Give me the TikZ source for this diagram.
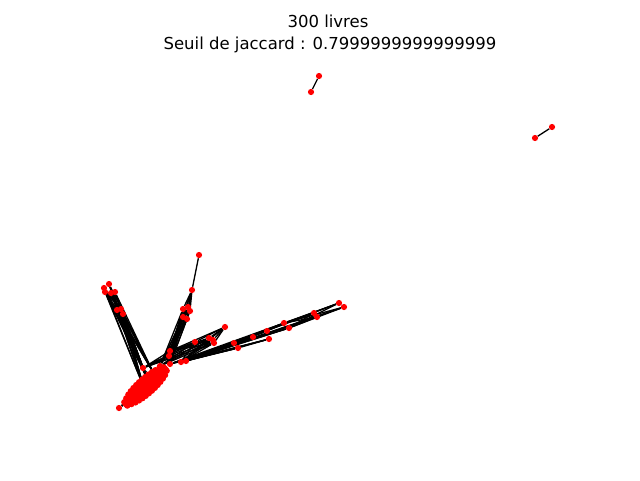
\documentclass[tikz,border=0pt]{standalone}
\usepackage{fontspec}
\setmainfont{DejaVu Sans}
\pgfdeclarelayer{bg}
\pgfsetlayers{bg,main}
\begin{document}
\begin{tikzpicture}[x=1pt,y=-1pt,
  dot/.style={circle,fill=red,inner sep=0pt,minimum size=6.2pt},
  edge/.style={black,line width=1.3pt},
  ttl/.style={font=\fontsize{16.5}{20}\selectfont,inner sep=0pt,anchor=base}]
\useasboundingbox (0,0) rectangle (640,480);
\node[ttl] (title1) at (328,27) {300 livres};
\node[ttl] (title2) at (330,49) {Seuil de jaccard : 0.7999999999999999};
% isolated pairs
\node[dot] (t1) at (319,76) {};
\node[dot] (t2) at (311,92) {};
\node[dot] (r1) at (552,127) {};
\node[dot] (r2) at (535,138) {};
% left group
\node[dot] (L1) at (109,284) {};
\node[dot] (L2) at (104,288) {};
\node[dot] (L3) at (105,292) {};
\node[dot] (L4) at (111,293) {};
\node[dot] (L5) at (115,292) {};
\node[dot] (L6) at (117,310) {};
\node[dot] (L7) at (121,309) {};
\node[dot] (L8) at (123,314) {};
% up branch
\node[dot] (U0) at (199,255) {};
\node[dot] (U1) at (192,290) {};
\node[dot] (U2) at (183,309) {};
\node[dot] (U3) at (188,307) {};
\node[dot] (U4) at (190,311) {};
\node[dot] (U5) at (183,317) {};
\node[dot] (U6) at (187,319) {};
% hub and blob top
\node[dot] (H) at (143,368) {};
\node[dot] (M1) at (170,351) {};
\node[dot] (M2) at (169,356) {};
\node[dot] (M3) at (181,362) {};
\node[dot] (M4) at (186,361) {};
\node[dot] (M5) at (170,364) {};
\node[dot] (M6) at (160,366) {};
\node[dot] (M7) at (153,372) {};
\node[dot] (B0) at (119,408) {};
% right branch
\node[dot] (R1) at (225,327) {};
\node[dot] (R2) at (195,342) {};
\node[dot] (R3) at (209,338) {};
\node[dot] (R4) at (213,340) {};
\node[dot] (R5) at (214,343) {};
\node[dot] (R6) at (234,343) {};
\node[dot] (R7) at (238,348) {};
\node[dot] (R8) at (253,337) {};
\node[dot] (R9) at (267,331) {};
\node[dot] (R10) at (269,339) {};
\node[dot] (R11) at (284,323) {};
\node[dot] (R12) at (289,328) {};
\node[dot] (R13) at (314,313) {};
\node[dot] (R14) at (317,317) {};
\node[dot] (R15) at (339,303) {};
\node[dot] (R16) at (344,307) {};
% blob
\begin{scope}[shift={(146,386)},rotate=41.5]
\foreach \u [count=\i] in {-1,-0.85,-0.7,-0.55,-0.4,-0.25,-0.1,0.05,0.2,0.35,0.5,0.65,0.8,0.95}{
  \foreach \v [count=\j] in {-1,-0.5,0,0.5,1}{
    \node[dot] (b\i-\j) at ({27*\u},{7.5*\v*sqrt(max(1-\u*\u,0.1))}) {};
  }
}
\end{scope}
\begin{pgfonlayer}{bg}
\draw[edge] (t1)--(t2) (r1)--(r2);
\draw[edge] (U0)--(U1);
\foreach \a in {U2,U3,U4,U5,U6}{
  \draw[edge] (U1)--(\a);
  \foreach \b in {M1,M2,M5,M6}{\draw[edge] (\a)--(\b);}
}
\draw[edge] (U1)--(M1) (U1)--(M2) (U2)--(U5) (U3)--(U6) (U4)--(U5);
\foreach \a in {L1,L2,L3,L4,L5,L6,L7,L8}{
  \foreach \b in {H,M7,b7-3,b9-2}{\draw[edge] (\a)--(\b);}
}
\draw[edge] (L1)--(L6) (L2)--(L7) (L4)--(L8) (L5)--(L6) (L3)--(L7);
\foreach \a in {R2,R3,R4,R5}{
  \draw[edge] (R1)--(\a);
  \foreach \b in {H,M1,M3,M6}{\draw[edge] (\a)--(\b);}
}
\draw[edge] (R1)--(M1) (R1)--(M3) (H)--(M1) (H)--(R2);
\foreach \a in {R6,R7,R8,R9,R10,R11,R12}{
  \foreach \b in {M3,M4,M5}{\draw[edge] (\a)--(\b);}
}
\foreach \a in {R13,R14,R15,R16}{
  \foreach \b in {R11,R12,M3,M4}{\draw[edge] (\a)--(\b);}
}
\draw[edge] (R6)--(R8) (R7)--(R10) (R9)--(R11) (R15)--(R16) (R13)--(R14);
\draw[edge] (B0)--(b1-3) (B0)--(b2-2) (H)--(b10-1) (M7)--(b12-3);
\end{pgfonlayer}
\end{tikzpicture}
\end{document}
